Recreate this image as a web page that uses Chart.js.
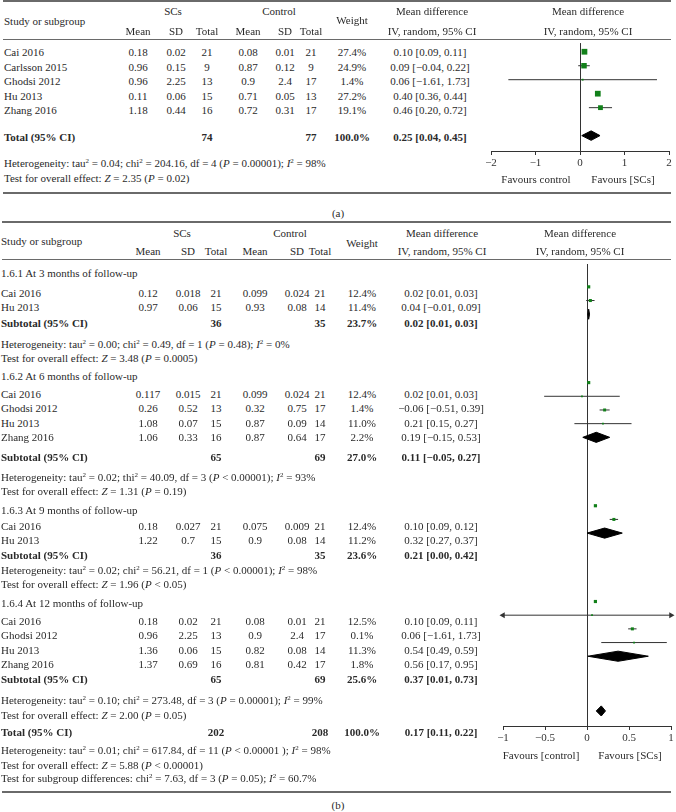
<!DOCTYPE html>
<html lang="en">
<head>
<meta charset="UTF-8">
<title>Forest plots</title>
<script src="https://cdn.jsdelivr.net/npm/chart.js@4.4.1/dist/chart.umd.min.js"></script>
<style>
  html, body { margin: 0; padding: 0; background: #fff; }
  body { width: 676px; height: 812px; position: relative; overflow: hidden;
         font-family: 'Liberation Serif', 'DejaVu Serif', serif; font-size: 11px; color: #2a2a2a; }
  .t { position: absolute; white-space: nowrap; line-height: 1; }
  .c { transform: translate(-50%, -50%); }
  .l { transform: translateY(-50%); }
  .b { font-weight: bold; }
  sup { font-size: 7px; vertical-align: 4px; line-height: 0; }
  .rule { position: absolute; background: #6a6a6a; }
  canvas { position: absolute; }
</style>
</head>
<body>

<canvas id="plotA" width="205" height="136" style="left:471px;top:39px"></canvas>
<canvas id="plotB" width="193" height="490" style="left:483px;top:260px"></canvas>

<script>
// ---- panel (a): overall ----
const studiesA = ['Cai 2016', 'Carlsson 2015', 'Ghodsi 2012', 'Hu 2013', 'Zhang 2016'];
const scMeanA = [0.18, 0.96, 0.96, 0.11, 1.18];
const scSdA   = [0.02, 0.15, 2.25, 0.06, 0.44];
const scNA    = [21, 9, 13, 15, 16];
const ctMeanA = [0.08, 0.87, 0.9, 0.71, 0.72];
const ctSdA   = [0.01, 0.12, 2.4, 0.05, 0.31];
const ctNA    = [21, 9, 17, 13, 17];
const weightA = [27.4, 24.9, 1.4, 27.2, 19.1];
const mdA     = [0.10, 0.09, 0.06, 0.40, 0.46];
const loA     = [0.09, -0.04, -1.61, 0.36, 0.20];
const hiA     = [0.11, 0.22, 1.73, 0.44, 0.72];
const totNA   = [74, 77];
const totWA   = 100.0;
const totMdA  = [0.25, 0.04, 0.45];
const hetA  = 'Heterogeneity: tau<sup>2</sup> = 0.04; chi<sup>2</sup> = 204.16, df = 4 (<i>P</i> = 0.00001); <i>I</i><sup>2</sup> = 98%';
const testA = 'Test for overall effect: <i>Z</i> = 2.35 (<i>P</i> = 0.02)';
const ticksA = [-2, -1, 0, 1, 2];

// ---- panel (b): by follow-up time ----
const groupsB  = ['1.6.1 At 3 months of follow-up', '1.6.2 At 6 months of follow-up',
                  '1.6.3 At 9 months of follow-up', '1.6.4 At 12 months of follow-up'];
const studiesB = [['Cai 2016', 'Hu 2013'], ['Cai 2016', 'Ghodsi 2012', 'Hu 2013', 'Zhang 2016'],
                  ['Cai 2016', 'Hu 2013'], ['Cai 2016', 'Ghodsi 2012', 'Hu 2013', 'Zhang 2016']];
const scMeanB = [[0.12, 0.97], [0.117, 0.26, 1.08, 1.06], [0.18, 1.22], [0.18, 0.96, 1.36, 1.37]];
const scSdB   = [[0.018, 0.06], [0.015, 0.52, 0.07, 0.33], [0.027, 0.7], [0.02, 2.25, 0.06, 0.69]];
const scNB    = [[21, 15], [21, 13, 15, 16], [21, 15], [21, 13, 15, 16]];
const ctMeanB = [[0.099, 0.93], [0.099, 0.32, 0.87, 0.87], [0.075, 0.9], [0.08, 0.9, 0.82, 0.81]];
const ctSdB   = [[0.024, 0.08], [0.024, 0.75, 0.09, 0.64], [0.009, 0.08], [0.01, 2.4, 0.08, 0.42]];
const ctNB    = [[21, 14], [21, 17, 14, 17], [21, 14], [21, 17, 14, 17]];
const weightB = [[12.4, 11.4], [12.4, 1.4, 11.0, 2.2], [12.4, 11.2], [12.5, 0.1, 11.3, 1.8]];
const mdB     = [[0.02, 0.04], [0.02, -0.06, 0.21, 0.19], [0.10, 0.32], [0.10, 0.06, 0.54, 0.56]];
const loB     = [[0.01, -0.01], [0.01, -0.51, 0.15, -0.15], [0.09, 0.27], [0.09, -1.61, 0.49, 0.17]];
const hiB     = [[0.03, 0.09], [0.03, 0.39, 0.27, 0.53], [0.12, 0.37], [0.11, 1.73, 0.59, 0.95]];
const subScNB = [36, 65, 36, 65];
const subCtNB = [35, 69, 35, 69];
const subWB   = [23.7, 27.0, 23.6, 25.6];
const subMdB  = [0.02, 0.11, 0.21, 0.37];
const subLoB  = [0.01, -0.05, 0.00, 0.01];
const subHiB  = [0.03, 0.27, 0.42, 0.73];
const hetB = [
  'Heterogeneity: tau<sup>2</sup> = 0.00; chi<sup>2</sup> = 0.49, df = 1 (<i>P</i> = 0.48); <i>I</i><sup>2</sup> = 0%',
  'Heterogeneity: tau<sup>2</sup> = 0.02; thi<sup>2</sup> = 40.09, df = 3 (<i>P</i> &lt; 0.00001); <i>I</i><sup>2</sup> = 93%',
  'Heterogeneity: tau<sup>2</sup> = 0.02; chi<sup>2</sup> = 56.21, df = 1 (<i>P</i> &lt; 0.00001); <i>I</i><sup>2</sup> = 98%',
  'Heterogeneity: tau<sup>2</sup> = 0.10; chi<sup>2</sup> = 273.48, df = 3 (<i>P</i> = 0.00001); <i>I</i><sup>2</sup> = 99%'
];
const testB = [
  'Test for overall effect: <i>Z</i> = 3.48 (<i>P</i> = 0.0005)',
  'Test for overall effect: <i>Z</i> = 1.31 (<i>P</i> = 0.19)',
  'Test for overall effect: <i>Z</i> = 1.96 (<i>P</i> &lt; 0.05)',
  'Test for overall effect: <i>Z</i> = 2.00 (<i>P</i> = 0.05)'
];
const totNB  = [202, 208];
const totWB  = 100.0;
const totMdB = [0.17, 0.11, 0.22];
const totHetB = [
  'Heterogeneity: tau<sup>2</sup> = 0.01; chi<sup>2</sup> = 617.84, df = 11 (<i>P</i> &lt; 0.00001 ); <i>I</i><sup>2</sup> = 98%',
  'Test for overall effect: <i>Z</i> = 5.88 (<i>P</i> &lt; 0.00001)',
  'Test for subgroup differences: chi<sup>2</sup> = 7.63, df = 3 (<i>P</i> = 0.05); <i>I</i><sup>2</sup> = 60.7%'
];
const ticksB = [-1, -0.5, 0, 0.5, 1];

// ---- layout (text line centres, plot rows) ----
const colA = { m1: 138, s1: 176, n1: 207, m2: 248, s2: 285, n2: 311, w: 352, md: 430 };
const colB = { m1: 148, s1: 188, n1: 216, m2: 255, s2: 297, n2: 320, w: 362, md: 441 };
const rowYA = [52, 66.5, 81, 95.5, 110];
const layoutB = [
  { head: 273, rows: [293, 307], sub: 323, het: 344, test: 358 },
  { head: 376, rows: [394, 408, 423, 437], sub: 457, het: 477, test: 491 },
  { head: 510, rows: [526, 540], sub: 555, het: 570, test: 584 },
  { head: 603, rows: [621, 635, 650, 664], sub: 679, het: 700, test: 715 }
];
const plotRowsB = [[0, 1], [7, 8, 9, 10], [16, 17], [23, 24, 25, 26]];
const plotSubB = [2, 11, 18, 27];

const INK = '#333';
const GREEN = '#12801a';

function put(x, y, html, cls) {
  const d = document.createElement('div');
  d.className = 't ' + (cls || 'c');
  d.style.left = x + 'px';
  d.style.top = y + 'px';
  d.innerHTML = html;
  document.body.appendChild(d);
}
function rule(x, y, w, h) {
  const d = document.createElement('div');
  d.className = 'rule';
  d.style.cssText = `left:${x}px;top:${y}px;width:${w}px;height:${h}px`;
  document.body.appendChild(d);
}
const fmt = v => (v < 0 ? '\u2212' : '') + Math.abs(v).toFixed(2);
const ci = (m, lo, hi) => `${fmt(m)} [${fmt(lo)}, ${fmt(hi)}]`;
const tick = v => (v < 0 ? '\u2212' + Math.abs(v) : String(v));

// ---- panel (a) text ----
rule(3, 0, 668, 2); rule(3, 39, 668, 1); rule(3, 192, 668, 2);
put(4, 21, 'Study or subgroup', 'l');
put(173, 11, 'SCs'); put(279, 11, 'Control');
[['m1', 'Mean'], ['s1', 'SD'], ['n1', 'Total'], ['m2', 'Mean'], ['s2', 'SD'], ['n2', 'Total']]
  .forEach(([k, s]) => put(colA[k], 31, s));
put(colA.w, 20, 'Weight');
put(432, 11, 'Mean difference'); put(432, 31, 'IV, random, 95% CI');
put(588, 11, 'Mean difference'); put(588, 31, 'IV, random, 95% CI');
studiesA.forEach((s, i) => {
  const y = rowYA[i];
  put(4, y, s, 'l');
  put(colA.m1, y, scMeanA[i]); put(colA.s1, y, scSdA[i]); put(colA.n1, y, scNA[i]);
  put(colA.m2, y, ctMeanA[i]); put(colA.s2, y, ctSdA[i]); put(colA.n2, y, ctNA[i]);
  put(colA.w, y, weightA[i].toFixed(1) + '%');
  put(colA.md, y, ci(mdA[i], loA[i], hiA[i]));
});
put(4, 137, 'Total (95% CI)', 'l b');
put(colA.n1, 137, totNA[0], 'c b'); put(colA.n2, 137, totNA[1], 'c b');
put(colA.w, 137, totWA.toFixed(1) + '%', 'c b');
put(colA.md, 137, ci(...totMdA), 'c b');
put(4, 163, hetA, 'l'); put(4, 178, testA, 'l');
put(536, 179, 'Favours control'); put(623, 179, 'Favours [SCs]');
put(338, 213, '(a)');

// ---- panel (b) text ----
rule(2, 221, 669, 2); rule(2, 259, 669, 1); rule(2, 791, 669, 2);
put(1, 241, 'Study or subgroup', 'l');
put(182, 233, 'SCs'); put(290, 233, 'Control');
[['m1', 'Mean'], ['s1', 'SD'], ['n1', 'Total'], ['m2', 'Mean'], ['s2', 'SD'], ['n2', 'Total']]
  .forEach(([k, s]) => put(colB[k], 251, s));
put(colB.w, 243, 'Weight');
put(442, 233, 'Mean difference'); put(442, 251, 'IV, random, 95% CI');
put(580, 233, 'Mean difference'); put(580, 251, 'IV, random, 95% CI');
groupsB.forEach((g, gi) => {
  const L = layoutB[gi];
  put(1, L.head, g, 'l');
  studiesB[gi].forEach((s, i) => {
    const y = L.rows[i];
    put(1, y, s, 'l');
    put(colB.m1, y, scMeanB[gi][i]); put(colB.s1, y, scSdB[gi][i]); put(colB.n1, y, scNB[gi][i]);
    put(colB.m2, y, ctMeanB[gi][i]); put(colB.s2, y, ctSdB[gi][i]); put(colB.n2, y, ctNB[gi][i]);
    put(colB.w, y, weightB[gi][i].toFixed(1) + '%');
    put(colB.md, y, ci(mdB[gi][i], loB[gi][i], hiB[gi][i]));
  });
  put(1, L.sub, 'Subtotal (95% CI)', 'l b');
  put(colB.n1, L.sub, subScNB[gi], 'c b'); put(colB.n2, L.sub, subCtNB[gi], 'c b');
  put(colB.w, L.sub, subWB[gi].toFixed(1) + '%', 'c b');
  put(colB.md, L.sub, ci(subMdB[gi], subLoB[gi], subHiB[gi]), 'c b');
  put(1, L.het, hetB[gi], 'l'); put(1, L.test, testB[gi], 'l');
});
put(1, 732, 'Total (95% CI)', 'l b');
put(colB.n1, 732, totNB[0], 'c b'); put(colB.n2, 732, totNB[1], 'c b');
put(colB.w, 732, totWB.toFixed(1) + '%', 'c b');
put(colB.md, 732, ci(...totMdB), 'c b');
put(1, 750, totHetB[0], 'l'); put(1, 765, totHetB[1], 'l'); put(1, 778, totHetB[2], 'l');
put(541, 755, 'Favours [control]'); put(630, 755, 'Favours [SCs]');
put(338, 805, '(b)');

// ---- forest plot builder ----
function forest(id, o) {
  const ds = [];
  const xmin = o.ticks[0], xmax = o.ticks[o.ticks.length - 1];
  o.md.forEach((m, i) => {
    const y = o.rows[i];
    const a = Math.max(o.lo[i], xmin), b = Math.min(o.hi[i], xmax);
    ds.push({ data: [{ x: a, y }, { x: b, y }], borderColor: INK, borderWidth: 1,
              pointRadius: 0, order: 3 });
    const arrows = [];
    if (o.lo[i] < xmin) arrows.push({ x: xmin, y, r: -90 });
    if (o.hi[i] > xmax) arrows.push({ x: xmax, y, r: 90 });
    if (arrows.length) {
      ds.push({ data: arrows.map(p => ({ x: p.x, y: p.y })), showLine: false, clip: false,
                pointStyle: 'triangle', pointRotation: arrows.map(p => p.r), pointRadius: 3.5,
                pointBackgroundColor: INK, pointBorderWidth: 0, order: 3 });
    }
  });
  ds.push({ data: o.md.map((m, i) => ({ x: m, y: o.rows[i] })), showLine: false,
            pointStyle: 'rect', pointBackgroundColor: GREEN, pointBorderWidth: 0,
            pointRadius: o.w.map(w => Math.max(o.k * Math.sqrt(w), 1.8) / Math.SQRT2), order: 1 });
  o.pooled.forEach(p => {
    const h = o.dh;
    ds.push({ data: [{ x: p.lo, y: p.row }, { x: p.md, y: p.row - h }, { x: p.hi, y: p.row },
                     { x: p.md, y: p.row + h }, { x: p.lo, y: p.row }],
              borderColor: '#000', borderWidth: 1, backgroundColor: '#000', fill: 'shape',
              pointRadius: 0, tension: 0, order: 2 });
  });
  return new Chart(document.getElementById(id), {
    type: 'line',
    data: { datasets: ds },
    options: {
      responsive: false,
      animation: false,
      layout: { padding: o.pad },
      plugins: { legend: { display: false }, tooltip: { enabled: false } },
      scales: {
        x: {
          type: 'linear', min: xmin, max: xmax,
          afterBuildTicks: s => { s.ticks = o.ticks.map(v => ({ value: v })); },
          afterFit: s => { s.height = 24; },
          ticks: { callback: tick, color: INK, padding: 2, maxRotation: 0, autoSkip: false,
                   font: { family: "'Liberation Serif', 'DejaVu Serif', serif", size: 11 } },
          grid: { color: c => (c.tick && c.tick.value === 0 ? INK : 'rgba(0,0,0,0)'),
                  tickColor: INK, tickLength: 4, lineWidth: 1 },
          border: { display: true, color: INK, width: 1 }
        },
        y: { type: 'linear', reverse: true, min: o.ymin, max: o.ymax, display: false }
      }
    }
  });
}

forest('plotA', {
  ticks: ticksA, md: mdA, lo: loA, hi: hiA, w: weightA,
  rows: [0, 1, 2, 3, 4], k: 1.1, dh: 0.34,
  pooled: [{ md: totMdA[0], lo: totMdA[1], hi: totMdA[2], row: 6 }],
  ymin: -0.62, ymax: 7.1, pad: { left: 20, right: 7, top: 0, bottom: 0 }
});

forest('plotB', {
  ticks: ticksB, md: mdB.flat(), lo: loB.flat(), hi: hiB.flat(), w: weightB.flat(),
  rows: plotRowsB.flat(), k: 0.9, dh: 0.37,
  pooled: subMdB.map((m, i) => ({ md: m, lo: subLoB[i], hi: subHiB[i], row: plotSubB[i] }))
    .concat([{ md: totMdB[0], lo: totMdB[1], hi: totMdB[2], row: 31 }]),
  ymin: -1.67, ymax: 32.1, pad: { left: 20, right: 5, top: 0, bottom: 0 }
});
</script>
</body>
</html>
